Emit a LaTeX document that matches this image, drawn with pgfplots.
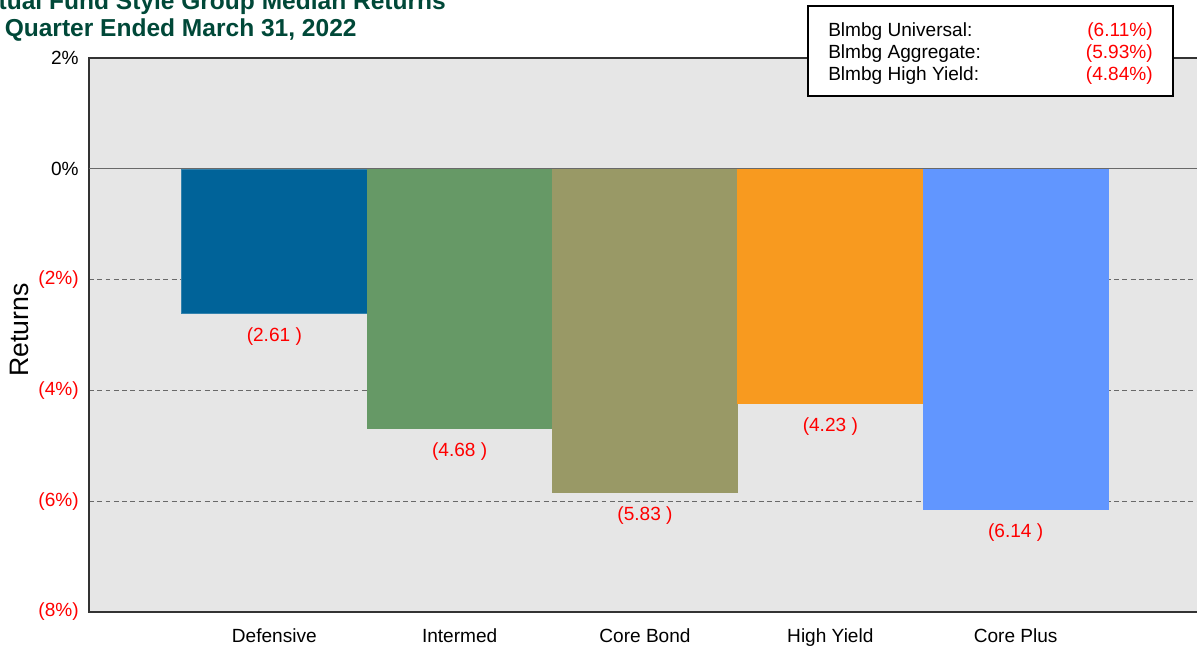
\documentclass[border=0pt]{standalone}
\usepackage{pgfplots}
\pgfplotsset{compat=1.18}
\usepackage{fontspec}
\setmainfont{Liberation Sans}
\definecolor{cBlue}{RGB}{0,99,153}
\definecolor{cGreen}{RGB}{102,153,102}
\definecolor{cOlive}{RGB}{153,153,102}
\definecolor{cOrange}{RGB}{248,154,31}
\definecolor{cLight}{RGB}{97,150,255}
\definecolor{bg}{RGB}{230,230,230}
\definecolor{titlegreen}{RGB}{0,72,56}
\definecolor{gridgray}{RGB}{105,105,105}
\definecolor{labred}{RGB}{255,0,0}
\begin{document}
\begin{tikzpicture}[x=0.75pt,y=0.75pt]
\useasboundingbox (0,0) rectangle (1197,648);
\clip (0,0) rectangle (1197,648);
\begin{axis}[
  at={(66.75pt,27pt)}, anchor=south west,
  scale only axis, width=834pt, height=415.5pt,
  xmin=0, xmax=6, ymin=-8, ymax=2,
  axis background/.style={fill=bg},
  axis line style={draw=black!80, line width=1.1pt},
  ytick={-8,-6,-4,-2,0,2},
  yticklabels={\textcolor{labred}{(8\%)},\textcolor{labred}{(6\%)},\textcolor{labred}{(4\%)},\textcolor{labred}{(2\%)},0\%,2\%},
  xtick={1,2,3,4,5},
  xticklabels={Defensive,Intermed,Core Bond,High Yield,Core Plus},
  major tick length=0pt,
  tick label style={font=\fontsize{14.3pt}{16pt}\selectfont},
  yticklabel style={xshift=-4.2pt},
  xticklabel style={yshift=-9pt},
  ymajorgrids,
  grid style={draw=gridgray, dash pattern=on 3.7pt off 2.5pt, line width=0.95pt},
  extra y ticks={0},
  extra y tick labels={},
  extra y tick style={grid style={draw=gridgray, solid, line width=0.95pt}},
  ylabel={Returns},
  every axis y label/.style={at={(axis description cs:-0.054,0.509)}, rotate=90, anchor=base, font=\fontsize{20pt}{22pt}\selectfont},
  ybar, bar width=1, bar shift=0pt,
  point meta=explicit symbolic,
  nodes near coords,
  nodes near coords style={font=\fontsize{14.3pt}{16pt}\selectfont, text=labred, anchor=north, inner sep=0pt, yshift=-10.7pt},
]
\addplot[fill=cBlue, draw=cBlue!80!white] coordinates {(1,-2.61) [(2.61\ )]};
\addplot[fill=cGreen, draw=cGreen] coordinates {(2,-4.68) [(4.68\ )]};
\addplot[fill=cOlive, draw=cOlive] coordinates {(3,-5.83) [(5.83\ )]};
\addplot[fill=cOrange, draw=cOrange] coordinates {(4,-4.23) [(4.23\ )]};
\addplot[fill=cLight, draw=cLight] coordinates {(5,-6.14) [(6.14\ )]};
\end{axis}
\node[anchor=base west, inner sep=0pt, text=titlegreen, font=\bfseries\fontsize{18.4pt}{20pt}\selectfont] at (-37,638) {Mutual Fund Style Group Median Returns};
\node[anchor=base west, inner sep=0pt, text=titlegreen, font=\bfseries\fontsize{18.4pt}{20pt}\selectfont] at (-35,611) {for Quarter Ended March 31, 2022};
\draw[fill=white, draw=black, line width=0.9pt] (808,552) rectangle (1173,642);
\node[anchor=base west, inner sep=0pt, font=\fontsize{14.3pt}{16pt}\selectfont] at (828,611) {Blmbg Universal:};
\node[anchor=base west, inner sep=0pt, font=\fontsize{14.3pt}{16pt}\selectfont] at (828,589) {Blmbg Aggregate:};
\node[anchor=base west, inner sep=0pt, font=\fontsize{14.3pt}{16pt}\selectfont] at (828,567) {Blmbg High Yield:};
\node[anchor=base east, inner sep=0pt, text=labred, font=\fontsize{14.3pt}{16pt}\selectfont] at (1153,611) {(6.11\%)};
\node[anchor=base east, inner sep=0pt, text=labred, font=\fontsize{14.3pt}{16pt}\selectfont] at (1153,589) {(5.93\%)};
\node[anchor=base east, inner sep=0pt, text=labred, font=\fontsize{14.3pt}{16pt}\selectfont] at (1153,567) {(4.84\%)};
\end{tikzpicture}
\end{document}
